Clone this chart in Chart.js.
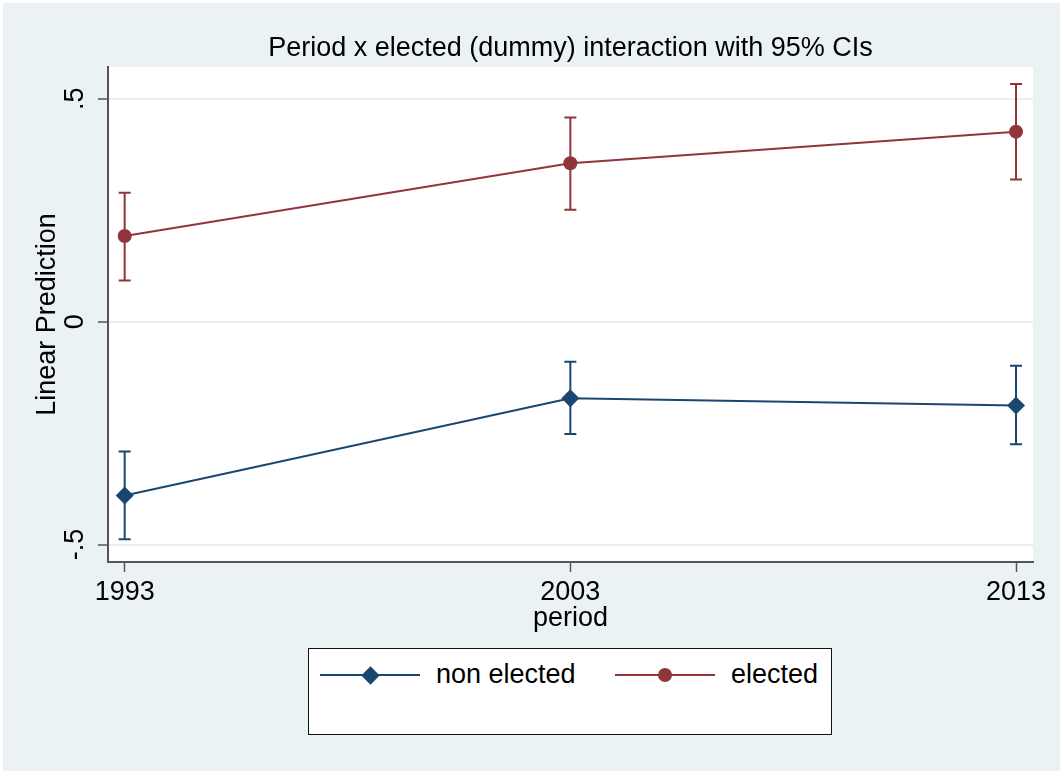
<!DOCTYPE html>
<html>
<head>
<meta charset="utf-8">
<title>Period x elected (dummy) interaction</title>
<script src="https://cdn.jsdelivr.net/npm/chart.js@4.4.1/dist/chart.umd.min.js"></script>
<style>
  body { margin: 0; background: #fff; }
  #wrap { position: relative; width: 1060px; height: 771px; font-family: Arial, "Liberation Sans", sans-serif; }
  #chart { position: absolute; left: 0; top: 0; }
  #legend { position: absolute; left: 308px; top: 648px; width: 524px; height: 87px; box-sizing: border-box;
            border: 1px solid #111; background: #fff; }
  .lg-line { position: absolute; height: 2px; }
  .lg-mark { position: absolute; }
  .lg-text { position: absolute; font-size: 27px; line-height: 30px; color: #000; white-space: nowrap; }
</style>
</head>
<body>
<div id="wrap">
  <canvas id="chart" width="1060" height="771"></canvas>
  <div id="legend"></div>
</div>
<script>
// margins (linear prediction) by period, with 95% CI
const periods = [1993, 2003, 2013];
const nonElected = [-0.390, -0.172, -0.188];
const nonElectedLo = [-0.488, -0.252, -0.275];
const nonElectedHi = [-0.291, -0.090, -0.099];
const elected = [0.192, 0.355, 0.426];
const electedLo = [0.092, 0.251, 0.319];
const electedHi = [0.289, 0.458, 0.533];

const yTicks = [-0.5, 0, 0.5];
const yTickLabels = ["-.5", "0", ".5"];

const NAVY = "#1a476f";
const RED = "#90353b";
const BG = "#eaf2f3";
const FONT = "Arial, 'Liberation Sans'";

function pts(ys) {
  return periods.map((p, i) => ({ x: p, y: ys[i] }));
}

const seriesList = [
  { label: "non elected", mean: nonElected, lo: nonElectedLo, hi: nonElectedHi, color: NAVY, style: "rectRot", radius: 9 },
  { label: "elected", mean: elected, lo: electedLo, hi: electedHi, color: RED, style: "circle", radius: 7 }
];

const background = {
  id: "background",
  beforeDraw(chart) {
    const ctx = chart.ctx;
    const a = chart.chartArea;
    ctx.save();
    ctx.fillStyle = "#fff";
    ctx.fillRect(0, 0, chart.width, chart.height);
    ctx.fillStyle = BG;
    ctx.fillRect(3, 3, chart.width - 3, chart.height - 3);
    ctx.fillStyle = "#fff";
    ctx.fillRect(a.left, a.top, a.right - a.left, a.bottom - a.top);
    ctx.restore();
  }
};

const errorBars = {
  id: "errorBars",
  beforeDatasetsDraw(chart) {
    const ctx = chart.ctx;
    const xs = chart.scales.x, ys = chart.scales.y;
    ctx.save();
    ctx.lineWidth = 2;
    seriesList.forEach(s => {
      ctx.strokeStyle = s.color;
      periods.forEach((p, i) => {
        const x = xs.getPixelForValue(p);
        const y1 = ys.getPixelForValue(s.lo[i]);
        const y2 = ys.getPixelForValue(s.hi[i]);
        ctx.beginPath();
        ctx.moveTo(x, y1); ctx.lineTo(x, y2);
        ctx.moveTo(x - 6, y1); ctx.lineTo(x + 6, y1);
        ctx.moveTo(x - 6, y2); ctx.lineTo(x + 6, y2);
        ctx.stroke();
      });
    });
    ctx.restore();
  }
};

new Chart(document.getElementById("chart"), {
  type: "line",
  data: {
    datasets: seriesList.map(s => ({
      label: s.label,
      data: pts(s.mean),
      borderColor: s.color,
      backgroundColor: s.color,
      borderWidth: 2,
      pointStyle: s.style,
      pointRadius: s.radius,
      pointBorderWidth: 0,
      tension: 0
    }))
  },
  options: {
    responsive: false,
    animation: false,
    events: [],
    layout: { padding: { left: 0, top: 10, right: 27, bottom: 136 } },
    plugins: {
      legend: { display: false },
      tooltip: { enabled: false },
      title: {
        display: true,
        fullSize: false,
        text: "Period x elected (dummy) interaction with 95% CIs",
        color: "#000",
        font: { family: FONT, size: 27, weight: "normal" },
        padding: { top: 22, bottom: 2.6 }
      }
    },
    scales: {
      x: {
        type: "linear",
        min: 1992.626,
        max: 2013.381,
        afterBuildTicks: scale => { scale.ticks = periods.map(v => ({ value: v })); },
        afterFit: scale => { scale.height = 73; },
        ticks: {
          color: "#000",
          padding: 4,
          font: { family: FONT, size: 27 },
          callback: v => String(v)
        },
        grid: { drawOnChartArea: false, tickLength: 10, tickColor: "#555", tickWidth: 1.5 },
        border: { color: "#555", width: 2 },
        title: {
          display: true,
          text: "period",
          color: "#000",
          font: { family: FONT, size: 27 },
          padding: { top: 0, bottom: 0 }
        }
      },
      y: {
        type: "linear",
        min: -0.539,
        max: 0.571,
        afterBuildTicks: scale => { scale.ticks = yTicks.map(v => ({ value: v })); },
        afterFit: scale => { scale.width = 108; },
        ticks: {
          color: "#000",
          padding: 7,
          minRotation: 90,
          maxRotation: 90,
          crossAlign: "center",
          font: { family: FONT, size: 27 },
          callback: v => yTickLabels[yTicks.indexOf(v)]
        },
        grid: { color: "#e6eef0", lineWidth: 2, tickLength: 10, tickColor: "#555", tickWidth: 1.5 },
        border: { color: "#555", width: 2 },
        title: {
          display: true,
          text: "Linear Prediction",
          color: "#000",
          font: { family: FONT, size: 27 },
          padding: { top: 31, bottom: 0 }
        }
      }
    }
  },
  plugins: [background, errorBars]
});

// legend: line with marker, then label
const wrap = document.getElementById("wrap");
const legendX = [320, 615];
seriesList.forEach((s, k) => {
  const x0 = legendX[k];
  const line = document.createElement("div");
  line.className = "lg-line";
  line.style.cssText = `left:${x0}px;top:674px;width:100px;background:${s.color}`;
  wrap.appendChild(line);
  const mark = document.createElement("div");
  mark.className = "lg-mark";
  if (s.style === "circle") {
    mark.style.cssText = `left:${x0 + 43}px;top:668px;width:14px;height:14px;border-radius:50%;background:${s.color}`;
  } else {
    mark.style.cssText = `left:${x0 + 44}px;top:669px;width:13px;height:13px;transform:rotate(45deg);background:${s.color}`;
  }
  wrap.appendChild(mark);
  const txt = document.createElement("div");
  txt.className = "lg-text";
  txt.style.cssText = `left:${x0 + 116}px;top:659px`;
  txt.textContent = s.label;
  wrap.appendChild(txt);
});
</script>
</body>
</html>
